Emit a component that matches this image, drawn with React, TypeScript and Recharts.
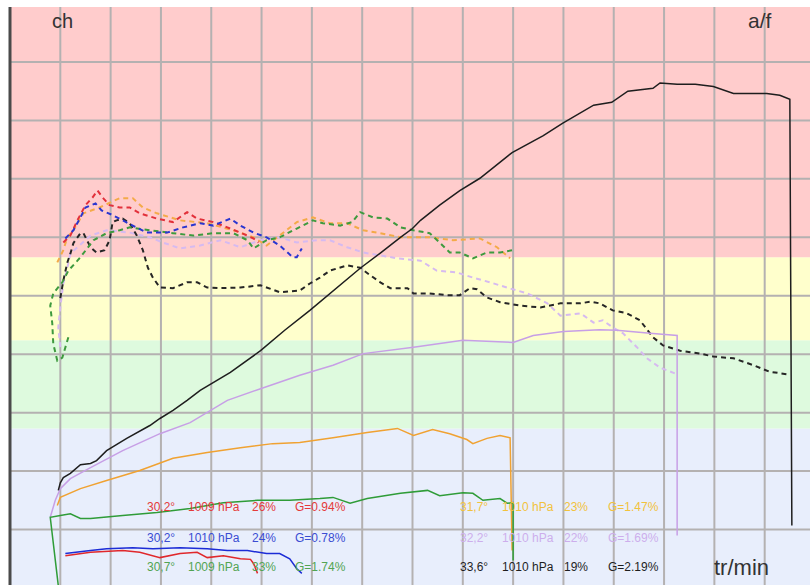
import React from 'react';
import {
    LineChart,
    Line,
    XAxis,
    YAxis,
    ReferenceArea,
    ReferenceLine,
} from 'recharts';

// axis ticks (grid every 500 tr/min and every 10 ch)
const rpmTicks = [500, 1000, 1500, 2000, 2500, 3000, 3500, 4000, 4500, 5000, 5500, 6000, 6500, 7000, 7500];
const chTicks = [10, 20, 30, 40, 50, 60, 70, 80, 90];

// background zones [from, to]
const zoneLimits = [0, 27.3, 42.4, 56.6, 99.4];
const zoneColors = ['#E8EEFC', '#DEFADE', '#FFFFCC', '#FFCCCC'];

// ---- solid curves (power) ----
const blackRpm = [480, 500, 530, 600, 700, 800, 860, 960, 1160, 1390, 1490, 1620, 1760, 1890, 2190, 2490, 2730, 2980, 3480, 3680, 3880, 4000, 4080, 4270, 4470, 4670, 4990, 5300, 5490, 5800, 5980, 6140, 6390, 6460, 6630, 6810, 6990, 7190, 7330, 7520, 7650, 7750, 7770];
const blackPower = [16.7, 18.0, 18.9, 19.6, 21.1, 21.3, 21.8, 23.5, 25.6, 27.8, 29.0, 30.4, 32.1, 33.8, 36.9, 40.6, 44.1, 47.5, 54.7, 57.3, 60.0, 61.5, 62.9, 65.5, 68.0, 70.1, 74.5, 77.4, 79.5, 82.6, 83.1, 85.0, 85.5, 86.4, 86.2, 86.2, 85.8, 84.6, 84.6, 84.6, 84.3, 83.6, 10.7];

const purpleRpm = [400, 450, 500, 600, 800, 1120, 1490, 1790, 2160, 2490, 2880, 3210, 3510, 4010, 4500, 5000, 5200, 5500, 5860, 6030, 6360, 6630, 6630];
const purplePower = [12.1, 15.0, 17.0, 18.7, 20.6, 23.5, 26.4, 28.3, 32.1, 34.1, 36.4, 38.1, 40.1, 41.2, 42.4, 42.0, 43.2, 43.9, 44.2, 44.1, 43.6, 43.2, 9.0];

const orangeRpm = [470, 500, 700, 960, 1290, 1620, 1960, 2290, 2610, 2880, 3210, 3550, 3850, 4010, 4200, 4370, 4540, 4600, 4740, 4870, 4970, 4990];
const orangePower = [14.1, 15.5, 17.0, 18.4, 20.1, 22.2, 23.2, 24.0, 24.7, 24.9, 25.7, 26.6, 27.3, 26.1, 27.1, 26.4, 25.4, 24.7, 25.6, 26.1, 25.7, 6.4];

const greenRpm = [480, 400, 500, 600, 700, 800, 1120, 1460, 1790, 2120, 2460, 2780, 3080, 3210, 3380, 3550, 3880, 4150, 4270, 4500, 4600, 4700, 4870, 4940, 5000, 5000];
const greenPower = [0.4, 12.1, 12.4, 12.7, 11.9, 11.9, 12.4, 12.9, 13.6, 14.6, 15.0, 15.0, 15.3, 15.5, 14.5, 15.3, 16.2, 16.7, 15.8, 16.3, 16.2, 15.0, 15.3, 14.5, 14.6, 4.7];

const blueRpm = [550, 800, 960, 1220, 1420, 1690, 1960, 2160, 2360, 2550, 2680, 2780, 2850, 2900];
const bluePower = [5.9, 6.4, 6.7, 6.9, 6.7, 6.9, 6.7, 6.4, 6.4, 5.9, 5.9, 5.0, 3.3, 2.5];

const redRpm = [550, 800, 1120, 1290, 1490, 1690, 1860, 1960, 2120, 2290, 2390, 2420, 2460];
const redPower = [5.5, 6.1, 6.4, 6.1, 5.2, 5.9, 6.1, 5.2, 5.5, 5.0, 4.9, 4.2, 2.5];

// ---- dashed curves (a/f) ----
const redAfRpm = [530, 600, 670, 750, 820, 870, 920, 990, 1090, 1190, 1290, 1460, 1620, 1760, 1860, 2020, 2160, 2290, 2420, 2470];
const redAf = [59.1, 60.3, 62.9, 65.5, 66.8, 68.0, 66.8, 65.5, 65.1, 65.1, 64.1, 63.2, 62.6, 64.3, 63.2, 62.6, 61.7, 60.8, 59.8, 59.1];

const blueAfRpm = [550, 630, 700, 750, 850, 910, 1020, 1120, 1220, 1360, 1560, 1720, 1890, 2020, 2190, 2290, 2420, 2550, 2680, 2810, 2850, 2900];
const blueAf = [59.8, 61.2, 63.4, 65.1, 65.8, 64.6, 63.8, 62.9, 62.0, 60.8, 60.8, 61.7, 62.4, 62.0, 63.2, 62.0, 60.8, 60.0, 58.6, 56.6, 56.6, 58.1];

const orangeAfRpm = [470, 530, 570, 630, 730, 890, 1090, 1220, 1320, 1460, 1690, 1960, 2220, 2420, 2550, 2680, 2850, 3010, 3180, 3350, 3510, 3680, 3880, 4170, 4400, 4670, 4840, 4970];
const orangeAf = [55.7, 57.8, 60.0, 61.2, 64.1, 65.1, 66.7, 66.7, 65.1, 64.1, 62.9, 62.4, 61.2, 60.0, 58.6, 60.3, 62.6, 63.4, 62.4, 62.4, 61.2, 60.7, 60.0, 60.0, 59.5, 59.8, 58.3, 56.4];

const greenAfRpm = [580, 520, 470, 430, 420, 400, 430, 520, 580, 670, 700, 830, 960, 1090, 1190, 1390, 1620, 1820, 2020, 2220, 2360, 2420, 2550, 2680, 2850, 3010, 3110, 3280, 3400, 3480, 3610, 3750, 3880, 4010, 4170, 4270, 4370, 4470, 4600, 4740, 4870, 5000];
const greenAf = [42.9, 39.4, 38.9, 41.8, 45.3, 48.3, 50.4, 52.3, 54.3, 56.0, 56.6, 59.5, 60.7, 61.2, 61.7, 61.2, 60.7, 60.3, 60.7, 60.7, 59.5, 58.1, 59.5, 60.0, 61.5, 62.9, 62.4, 62.0, 62.6, 64.3, 63.4, 63.2, 61.7, 61.2, 60.7, 59.1, 57.4, 57.4, 56.4, 57.4, 57.4, 57.8];

const purpleAfRpm = [500, 480, 500, 530, 570, 600, 670, 800, 960, 1190, 1390, 1520, 1690, 1890, 2090, 2290, 2490, 2680, 2850, 3050, 3180, 3350, 3510, 3680, 3850, 4080, 4240, 4440, 4600, 4770, 4940, 5140, 5340, 5470, 5670, 5800, 5890, 5990, 6090, 6230, 6330, 6460, 6610];
const purpleAf = [41.2, 44.6, 48.0, 52.1, 54.8, 57.2, 58.3, 60.3, 61.2, 60.8, 60.0, 59.1, 58.1, 58.6, 59.5, 58.3, 59.5, 60.0, 59.1, 59.5, 59.5, 58.3, 57.4, 56.9, 56.4, 56.0, 54.3, 54.0, 53.1, 52.3, 51.4, 50.4, 48.7, 46.6, 47.0, 45.4, 45.8, 44.6, 43.6, 41.2, 39.3, 37.7, 36.7];

const blackAfRpm = [500, 530, 570, 600, 630, 700, 730, 800, 860, 940, 990, 1020, 1060, 1120, 1190, 1260, 1320, 1370, 1420, 1490, 1620, 1760, 1860, 1960, 2090, 2290, 2490, 2680, 2880, 2980, 3080, 3180, 3350, 3480, 3580, 3680, 3780, 3950, 4010, 4170, 4340, 4470, 4570, 4640, 4740, 4870, 5070, 5270, 5470, 5670, 5770, 5860, 5990, 6130, 6260, 6390, 6490, 6660, 6860, 6990, 7190, 7390, 7550, 7750];
const blackAf = [49.6, 52.6, 55.7, 57.2, 59.0, 60.7, 60.7, 58.3, 57.4, 57.8, 59.5, 62.6, 62.9, 63.2, 62.4, 60.3, 57.8, 54.8, 53.1, 51.4, 51.3, 52.3, 52.3, 51.4, 51.3, 51.4, 51.8, 50.6, 50.9, 52.1, 53.1, 54.3, 55.2, 54.8, 53.5, 52.3, 51.3, 51.3, 50.4, 50.4, 50.1, 50.1, 51.3, 51.1, 49.7, 48.9, 48.3, 48.0, 48.7, 48.7, 49.0, 48.7, 47.5, 47.0, 45.8, 42.9, 41.5, 40.6, 40.1, 39.6, 39.3, 38.1, 37.0, 36.5];

// ---- run conditions ----
const condTemps = ['30,2°', '30,2°', '30,7°', '31,7°', '32,2°', '33,6°'];
const condPressures = ['1009 hPa', '1010 hPa', '1009 hPa', '1010 hPa', '1010 hPa', '1010 hPa'];
const condHumidity = ['26%', '24%', '33%', '23%', '22%', '19%'];
const condGains = ['G=0.94%', 'G=0.78%', 'G=1.74%', 'G=1.47%', 'G=1.69%', 'G=2.19%'];
const condColors = ['#E43A3A', '#3A4CD2', '#52A452', '#F2C23C', '#CDAEEC', '#1E1E1E'];

const zip = (x: number[], y: number[]) => x.map((rpm, i) => ({ rpm, v: y[i] }));

const solidSeries = [
    { key: 'purple', data: zip(purpleRpm, purplePower), color: '#C79FE6' },
    { key: 'orange', data: zip(orangeRpm, orangePower), color: '#F0A232' },
    { key: 'green', data: zip(greenRpm, greenPower), color: '#2F9C38' },
    { key: 'red', data: zip(redRpm, redPower), color: '#E0282C' },
    { key: 'blue', data: zip(blueRpm, bluePower), color: '#1C2CD6' },
    { key: 'black', data: zip(blackRpm, blackPower), color: '#1E1E1E' },
];

const dashedSeries = [
    { key: 'purpleAf', data: zip(purpleAfRpm, purpleAf), color: '#D6BAF0' },
    { key: 'blackAf', data: zip(blackAfRpm, blackAf), color: '#262626' },
    { key: 'orangeAf', data: zip(orangeAfRpm, orangeAf), color: '#F4AA48' },
    { key: 'greenAf', data: zip(greenAfRpm, greenAf), color: '#3E9A3E' },
    { key: 'redAf', data: zip(redAfRpm, redAf), color: '#E2303A' },
    { key: 'blueAf', data: zip(blueAfRpm, blueAf), color: '#2A36D0' },
];

const font = '"Liberation Sans", Arial, sans-serif';
const colX = [[147, 188, 252, 295], [460, 502, 564, 608]];
const rowY = [507, 538, 567];
const gridColor = '#B4B1B1';

export default function App() {
    return (
        <div style={{ position: 'fixed', left: 0, top: 0, width: 810, height: 585, overflow: 'hidden', background: '#fff', fontFamily: font }}>
            <LineChart width={815} height={588} margin={{ top: 7, right: 0, left: 10, bottom: 0 }}>
                {zoneColors.map((c, i) => (
                    <ReferenceArea key={c} y1={zoneLimits[i]} y2={zoneLimits[i + 1]} fill={c} fillOpacity={1} stroke="none" ifOverflow="hidden" />
                ))}
                <XAxis type="number" dataKey="rpm" domain={[0, 8000]} ticks={rpmTicks} hide allowDataOverflow />
                <YAxis type="number" domain={[0, 99.4]} ticks={chTicks} hide allowDataOverflow />
                {rpmTicks.map(t => (
                    <ReferenceLine key={`x${t}`} x={t} stroke={gridColor} strokeWidth={2} />
                ))}
                {chTicks.map(t => (
                    <ReferenceLine key={`y${t}`} y={t} stroke={gridColor} strokeWidth={2} />
                ))}
                <ReferenceLine x={0} stroke="#4A4A4A" strokeWidth={3} />
                {dashedSeries.map(s => (
                    <Line key={s.key} data={s.data} dataKey="v" type="linear" stroke={s.color} strokeWidth={2} strokeDasharray="5 4" dot={false} isAnimationActive={false} />
                ))}
                {solidSeries.map(s => (
                    <Line key={s.key} data={s.data} dataKey="v" type="linear" stroke={s.color} strokeWidth={1.5} dot={false} isAnimationActive={false} />
                ))}
            </LineChart>
            <span style={{ position: 'absolute', left: 52, top: 10, fontSize: 20, color: '#333' }}>ch</span>
            <span style={{ position: 'absolute', left: 748, top: 9, fontSize: 21, color: '#333' }}>a/f</span>
            <span style={{ position: 'absolute', left: 714, top: 555, fontSize: 22, color: '#333' }}>tr/min</span>
            {condTemps.map((t, i) => {
                const cols = colX[i < 3 ? 0 : 1];
                const top = rowY[i % 3] - 7;
                const vals = [t, condPressures[i], condHumidity[i], condGains[i]];
                return vals.map((txt, j) => (
                    <span key={`${i}-${j}`} style={{ position: 'absolute', left: cols[j], top, fontSize: 12, lineHeight: '14px', color: condColors[i], whiteSpace: 'nowrap' }}>
                        {txt}
                    </span>
                ));
            })}
        </div>
    );
}
